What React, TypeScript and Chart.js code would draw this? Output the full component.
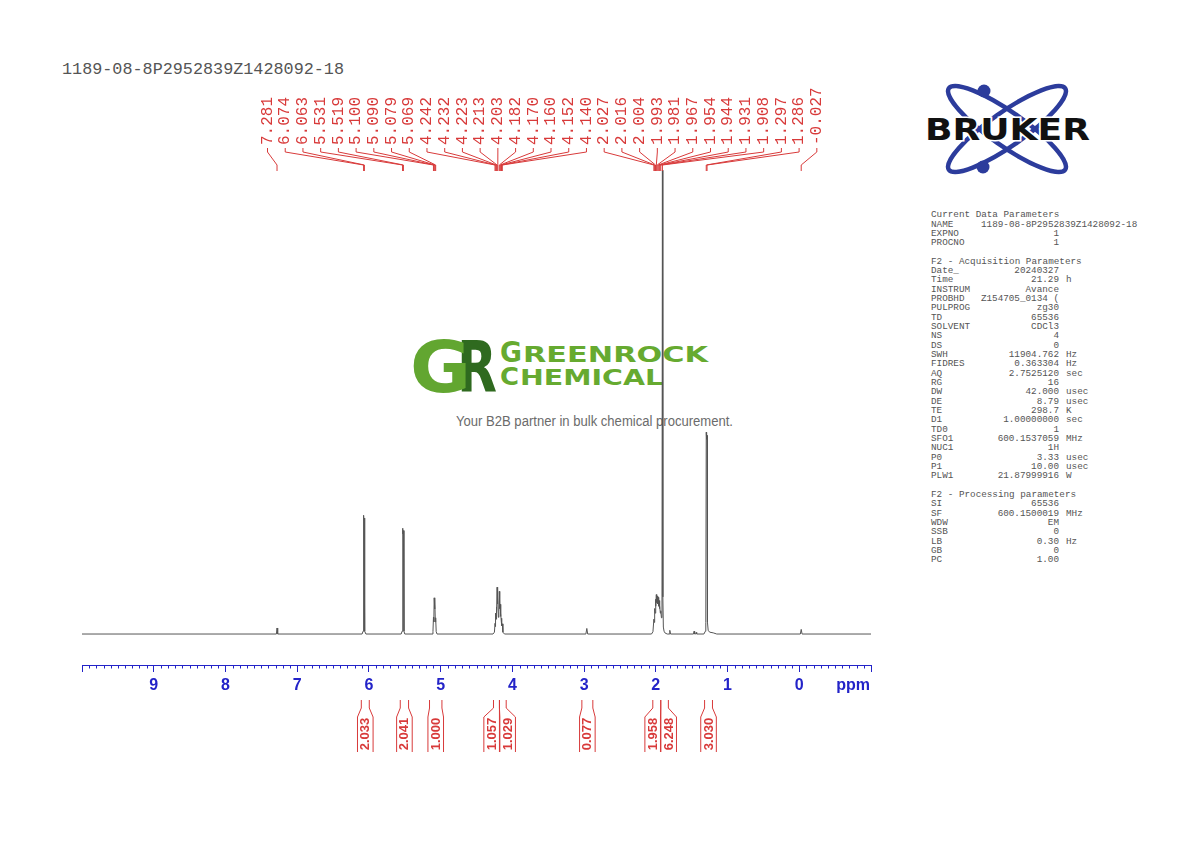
import React, { useEffect, useRef } from 'react';
import { Chart, registerables } from 'chart.js';

Chart.register(...registerables);

// ---------------- data ----------------
const sampleName = '1189-08-8P2952839Z1428092-18';

// spectrum trace: [chemical shift (ppm), intensity (tallest line = 100)]
const spectrumPoints: [number, number][] = [
  [10.0, 0],
  [7.29, 0], [7.281, 1.3], [7.272, 0],
  [6.095, 0], [6.082, 0.6], [6.074, 25.6], [6.068, 24.2], [6.063, 25.0], [6.055, 0.6], [6.042, 0],
  [5.55, 0], [5.538, 0.6], [5.531, 22.8], [5.525, 21.6], [5.519, 22.3], [5.511, 0.6], [5.5, 0],
  [5.12, 0], [5.107, 0.5], [5.1, 3.6], [5.095, 2.6], [5.09, 7.8], [5.085, 5.4], [5.079, 7.6], [5.074, 2.6], [5.069, 3.5], [5.062, 0.5], [5.05, 0],
  [4.27, 0], [4.25, 0.4], [4.242, 2.3], [4.237, 1.6], [4.232, 4.5], [4.227, 3.2], [4.223, 5.8], [4.218, 4.6], [4.213, 10.1], [4.208, 6.5], [4.203, 8.2], [4.195, 3.6], [4.188, 4.8], [4.182, 9.2], [4.176, 5.5], [4.17, 6.4], [4.165, 3.8], [4.16, 4.4], [4.156, 3.0], [4.152, 3.4], [4.146, 1.8], [4.14, 2.2], [4.132, 0.4], [4.11, 0],
  [2.975, 0], [2.962, 1.2], [2.95, 0],
  [2.06, 0], [2.04, 0.5], [2.027, 3.2], [2.021, 2.5], [2.016, 5.5], [2.01, 4.5], [2.004, 7.5], [1.999, 6.0], [1.993, 8.5], [1.987, 6.8], [1.981, 8.2], [1.974, 6.5], [1.967, 7.9], [1.96, 6.0], [1.954, 7.2], [1.949, 5.5], [1.944, 6.2], [1.937, 4.5], [1.931, 5.0], [1.922, 3.5], [1.914, 8.0], [1.908, 100], [1.902, 8.0], [1.895, 1.5], [1.885, 0.6], [1.87, 0.2], [1.84, 0],
  [1.815, 0], [1.805, 0.8], [1.795, 0],
  [1.475, 0], [1.467, 0.6], [1.459, 0], [1.445, 0], [1.437, 0.35], [1.43, 0],
  [1.33, 0], [1.31, 0.6], [1.303, 2.5], [1.297, 43.5], [1.292, 42.0], [1.286, 42.8], [1.28, 2.5], [1.27, 0.8], [1.25, 0.4], [1.2, 0.25], [1.15, 0],
  [-0.015, 0], [-0.027, 1.0], [-0.039, 0],
  [-1.0, 0],
];

// picked peak labels (ppm)
const peakLabels: number[] = [
  7.281, 6.074, 6.063, 5.531, 5.519, 5.1, 5.09, 5.079, 5.069,
  4.242, 4.232, 4.223, 4.213, 4.203, 4.182, 4.17, 4.16, 4.152, 4.14,
  2.027, 2.016, 2.004, 1.993, 1.981, 1.967, 1.954, 1.944, 1.931, 1.908,
  1.297, 1.286, -0.027,
];

// integral regions (ppm) and values
const integralStart: number[] = [6.106, 5.563, 5.155, 4.263, 4.18, 3.031, 2.042, 1.931, 1.32];
const integralEnd: number[] = [5.995, 5.447, 4.982, 4.18, 4.086, 2.878, 1.931, 1.825, 1.21];
const integralValues: string[] = ['2.033', '2.041', '1.000', '1.057', '1.029', '0.077', '1.958', '6.248', '3.030'];

// axis
const ppmMin = -1;
const ppmMax = 10;
const intensityMin = -6.68;
const intensityMax = 102.2;

// acquisition / processing parameters
const paramRows: [string, string, string][] = [
  ['Current Data Parameters', '', ''],
  ['NAME', sampleName, ''],
  ['EXPNO', '1', ''],
  ['PROCNO', '1', ''],
  ['', '', ''],
  ['F2 - Acquisition Parameters', '', ''],
  ['Date_', '20240327', ''],
  ['Time', '21.29', 'h'],
  ['INSTRUM', 'Avance', ''],
  ['PROBHD', 'Z154705_0134 (', ''],
  ['PULPROG', 'zg30', ''],
  ['TD', '65536', ''],
  ['SOLVENT', 'CDCl3', ''],
  ['NS', '4', ''],
  ['DS', '0', ''],
  ['SWH', '11904.762', 'Hz'],
  ['FIDRES', '0.363304', 'Hz'],
  ['AQ', '2.7525120', 'sec'],
  ['RG', '16', ''],
  ['DW', '42.000', 'usec'],
  ['DE', '8.79', 'usec'],
  ['TE', '298.7', 'K'],
  ['D1', '1.00000000', 'sec'],
  ['TD0', '1', ''],
  ['SFO1', '600.1537059', 'MHz'],
  ['NUC1', '1H', ''],
  ['P0', '3.33', 'usec'],
  ['P1', '10.00', 'usec'],
  ['PLW1', '21.87999916', 'W'],
  ['', '', ''],
  ['F2 - Processing parameters', '', ''],
  ['SI', '65536', ''],
  ['SF', '600.1500019', 'MHz'],
  ['WDW', 'EM', ''],
  ['SSB', '0', ''],
  ['LB', '0.30', 'Hz'],
  ['GB', '0', ''],
  ['PC', '1.00', ''],
];

// ---------------- styles ----------------
const AXIS_BLUE = '#2323c8';
const RED = '#d83a3a';
const TRACE = '#555555';
const MONO = '"Liberation Mono", "DejaVu Sans Mono", monospace';
const SANS = '"Liberation Sans", Arial, sans-serif';

const LABEL_X0 = 267.5;
const LABEL_GAP = 17.72;

const nmrDecor = {
  id: 'nmrDecor',
  afterDraw(chart: any) {
    const ctx: CanvasRenderingContext2D = chart.ctx;
    const xs = chart.scales.x;
    const area = chart.chartArea;
    ctx.save();

    // minor ticks every 0.1 ppm
    ctx.strokeStyle = AXIS_BLUE;
    ctx.lineWidth = 1;
    ctx.beginPath();
    for (let i = ppmMin * 10; i <= ppmMax * 10; i++) {
      if (i % 10 === 0) continue;
      const x = Math.round(xs.getPixelForValue(i / 10)) + 0.5;
      ctx.moveTo(x, area.bottom);
      ctx.lineTo(x, area.bottom + 3.5);
    }
    ctx.stroke();

    // unit label
    ctx.fillStyle = AXIS_BLUE;
    ctx.font = `bold 16px ${SANS}`;
    ctx.textAlign = 'center';
    ctx.textBaseline = 'middle';
    ctx.fillText('ppm', xs.getPixelForValue(-0.75), area.bottom + 21);

    // peak labels
    ctx.strokeStyle = RED;
    ctx.fillStyle = RED;
    ctx.lineWidth = 1;
    ctx.font = `16px ${MONO}`;
    const topY = area.top;
    peakLabels.forEach((p, i) => {
      const lx = LABEL_X0 + i * LABEL_GAP;
      const px = xs.getPixelForValue(p);
      ctx.beginPath();
      ctx.moveTo(lx, topY - 12);
      ctx.lineTo(lx, topY - 8);
      ctx.lineTo(px, topY + 5);
      ctx.lineTo(px, topY + 11);
      ctx.stroke();
      ctx.save();
      ctx.translate(lx, topY - 15);
      ctx.rotate(-Math.PI / 2);
      ctx.textAlign = 'left';
      ctx.textBaseline = 'middle';
      ctx.fillText(p.toFixed(3), 0, 0);
      ctx.restore();
    });

    // integrals
    const centers = integralStart.map((s, i) => (xs.getPixelForValue(s) + xs.getPixelForValue(integralEnd[i])) / 2);
    for (let k = 0; k < 3; k++) {
      for (let i = 0; i < centers.length - 1; i++) {
        if (centers[i + 1] - centers[i] < 16) {
          const mid = (centers[i] + centers[i + 1]) / 2;
          centers[i] = mid - 8;
          centers[i + 1] = mid + 8;
        }
      }
    }
    const b = area.bottom;
    ctx.font = `bold 13px ${SANS}`;
    integralStart.forEach((s, i) => {
      const x1 = xs.getPixelForValue(s);
      const x2 = xs.getPixelForValue(integralEnd[i]);
      const c = centers[i];
      const bl = c - 7.8;
      const br = c + 7.8;
      ctx.beginPath();
      ctx.moveTo(x1, b + 35);
      ctx.lineTo(x1, b + 43);
      ctx.lineTo(bl, b + 52);
      ctx.lineTo(bl, b + 87);
      ctx.moveTo(x2, b + 35);
      ctx.lineTo(x2, b + 43);
      ctx.lineTo(br, b + 52);
      ctx.lineTo(br, b + 87);
      ctx.stroke();
      ctx.save();
      ctx.translate(c + 0.5, b + 69);
      ctx.rotate(-Math.PI / 2);
      ctx.textAlign = 'center';
      ctx.textBaseline = 'middle';
      ctx.fillText(integralValues[i], 0, 0);
      ctx.restore();
    });

    ctx.restore();
  },
};

function BrukerLogo() {
  return (
    <g>
      <ellipse cx={1007} cy={129} rx={71} ry={17} transform="rotate(35 1007 129)" fill="none" stroke="#2c3c9c" strokeWidth={4.5} />
      <ellipse cx={1007} cy={129} rx={71} ry={17} transform="rotate(-35 1007 129)" fill="none" stroke="#2c3c9c" strokeWidth={4.5} />
      <circle cx={984} cy={91} r={6.5} fill="#2c3c9c" />
      <circle cx={983} cy={167} r={6.5} fill="#2c3c9c" />
      <text x={925} y={140} fontFamily='"DejaVu Sans", sans-serif' fontWeight="bold" fontSize={30}
        textLength={165} lengthAdjust="spacingAndGlyphs" fill="#111" stroke="#fff" strokeWidth={3}
        style={{ paintOrder: 'stroke' }}>BRUKER</text>
    </g>
  );
}

function GreenrockLogo() {
  return (
    <g>
      <text x={457} y={392} fontFamily='"DejaVu Sans", sans-serif' fontWeight="bold" fontSize={72}
        textLength={40} lengthAdjust="spacingAndGlyphs" fill="#2f6a1f">R</text>
      <text x={410} y={392} fontFamily='"DejaVu Sans", sans-serif' fontWeight="bold" fontSize={72}
        textLength={61} lengthAdjust="spacingAndGlyphs" fill="#62a630">G</text>
      <text x={500} y={362} fontFamily='"DejaVu Sans", sans-serif' fontWeight="bold" fontSize={28} fill="#66aa30"
        textLength={22} lengthAdjust="spacingAndGlyphs">G</text>
      <text x={523} y={362} fontFamily='"DejaVu Sans", sans-serif' fontWeight="bold" fontSize={21} fill="#66aa30"
        textLength={185} lengthAdjust="spacingAndGlyphs">REENROCK</text>
      <text x={500} y={385} fontFamily='"DejaVu Sans", sans-serif' fontWeight="bold" fontSize={25} fill="#66aa30"
        textLength={19} lengthAdjust="spacingAndGlyphs">C</text>
      <text x={520} y={385} fontFamily='"DejaVu Sans", sans-serif' fontWeight="bold" fontSize={21} fill="#66aa30"
        textLength={143} lengthAdjust="spacingAndGlyphs">HEMICAL</text>
      <text x={456} y={426} fontFamily={SANS} fontSize={14} fill="#6b6b6b"
        textLength={277} lengthAdjust="spacingAndGlyphs">Your B2B partner in bulk chemical procurement.</text>
    </g>
  );
}

function Parameters() {
  const lineH = 9.325;
  return (
    <g fontFamily={MONO} fontSize={9.3} fill="#555">
      {paramRows.map(([label, value, unit], i) => {
        const y = 214 + i * lineH + 3.2;
        if (!label) return null;
        return (
          <g key={i}>
            <text x={931} y={y} style={{ whiteSpace: 'pre' }}>{label}</text>
            {value && (label === 'NAME'
              ? <text x={981} y={y}>{value}</text>
              : <text x={1059} y={y} textAnchor="end" style={{ whiteSpace: 'pre' }}>{value}</text>)}
            {unit && <text x={1066} y={y}>{unit}</text>}
          </g>
        );
      })}
    </g>
  );
}

export default function App() {
  const canvasRef = useRef<HTMLCanvasElement>(null);

  useEffect(() => {
    const canvas = canvasRef.current;
    if (!canvas) return;
    const chart = new Chart(canvas, {
      type: 'line',
      data: {
        datasets: [
          {
            data: spectrumPoints.map(([x, y]) => ({ x, y })),
            borderColor: TRACE,
            borderWidth: 1,
            pointRadius: 0,
            tension: 0,
            fill: false,
          },
        ],
      },
      options: {
        responsive: false,
        animation: false,
        events: [],
        layout: { padding: { left: 82, right: 319, top: 160, bottom: 137 } },
        scales: {
          x: {
            type: 'linear',
            reverse: true,
            min: ppmMin,
            max: ppmMax,
            afterFit: (scale: any) => {
              scale.height = 40;
            },
            border: { display: true, color: AXIS_BLUE, width: 1 },
            grid: { drawOnChartArea: false, drawTicks: true, tickLength: 7, color: AXIS_BLUE },
            ticks: {
              stepSize: 1,
              autoSkip: false,
              maxRotation: 0,
              padding: 4,
              color: AXIS_BLUE,
              font: { family: SANS, size: 16, weight: 'bold' },
              callback: (v: any) => (v < 0 || v > 9 ? '' : String(v)),
            },
          },
          y: {
            display: false,
            min: intensityMin,
            max: intensityMax,
          },
        },
        plugins: {
          legend: { display: false },
          tooltip: { enabled: false },
        },
      },
      plugins: [nmrDecor],
    } as any);
    return () => chart.destroy();
  }, []);

  return (
    <div style={{ position: 'fixed', left: 0, top: 0, width: 1190, height: 842, background: '#fff', overflow: 'hidden' }}>
      <svg width={1190} height={842} style={{ position: 'absolute', left: 0, top: 0 }}>
        <text x={62} y={73.5} fontFamily={MONO} fontSize={16.8} fill="#555"
          textLength={282} lengthAdjust="spacingAndGlyphs">{sampleName}</text>
        <BrukerLogo />
        <GreenrockLogo />
        <Parameters />
      </svg>
      <canvas ref={canvasRef} width={1190} height={842} style={{ position: 'absolute', left: 0, top: 0 }} />
    </div>
  );
}
